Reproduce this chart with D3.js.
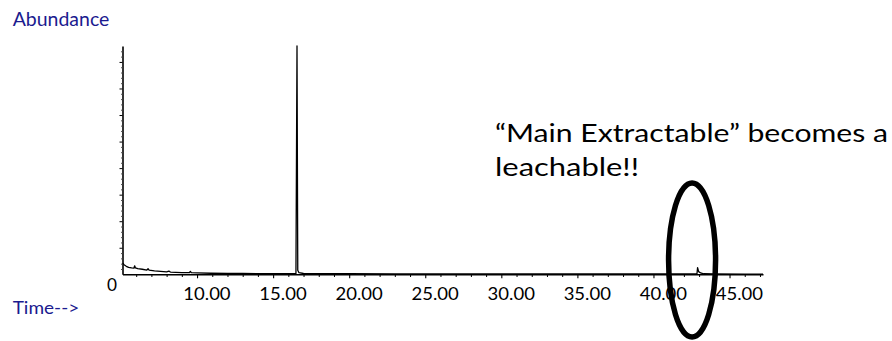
<!DOCTYPE html>
<html>
<head>
<meta charset="utf-8">
<script src="https://cdn.jsdelivr.net/npm/d3@7"></script>
<style>
  html, body { margin: 0; padding: 0; background: #fff; }
  svg { display: block; }
  text { font-family: Lato, 'Open Sans', sans-serif; }
</style>
</head>
<body>
<div id="chart"></div>
<script>
// chromatogram trace, time in minutes, abundance in millions
const traceTime = [5.12, 5.2, 5.35, 5.5, 5.7, 5.85, 5.9, 5.95, 6.1, 6.4, 6.7, 6.78, 6.85, 7.2, 7.6, 8.0, 8.15, 8.25, 8.6, 9.0, 9.5, 9.56, 9.62, 10.0, 10.9, 12.0, 13.0, 14.0, 15.0, 16.0, 16.5, 16.57, 16.62, 16.7, 17.0, 18.0, 20.0, 23.0, 26.0, 29.0, 32.0, 35.0, 38.0, 41.0, 42.8, 42.86, 42.9, 42.97, 43.1, 43.3, 44.0, 46.0, 47.2]
const traceAbund = [0.42, 0.36, 0.30, 0.26, 0.24, 0.23, 0.32, 0.24, 0.21, 0.19, 0.16, 0.21, 0.16, 0.13, 0.11, 0.09, 0.12, 0.085, 0.075, 0.065, 0.06, 0.11, 0.06, 0.055, 0.04, 0.035, 0.03, 0.025, 0.02, 0.02, 0.02, 8.6, 0.15, 0.06, 0.03, 0.02, 0.02, 0.015, 0.015, 0.012, 0.012, 0.012, 0.012, 0.012, 0.012, 0.02, 0.25, 0.1, 0.05, 0.02, 0.012, 0.01, 0.01]

const xDomain = [5.1, 47.2]
const yDomain = [0, 8.6]
const xLabelTicks = [10, 15, 20, 25, 30, 35, 40, 45]
const yTitle = 'Abundance'
const xTitle = 'Time-->'
const noteLines = ['\u201CMain Extractable\u201D becomes a', 'leachable!!']
const noteTime = 42.9

const W = 892, H = 341
const navy = '#1b1b8f'

const svg = d3.select('#chart').append('svg')
  .attr('width', W).attr('height', H)

const x = d3.scaleLinear().domain(xDomain).range([122.5, 763])
const y = d3.scaleLinear().domain(yDomain).range([274.3, 46])

svg.append('clipPath').attr('id', 'plotclip')
  .append('rect').attr('x', 122).attr('y', 45).attr('width', 642).attr('height', 231)

// x axis: minute ticks, longer every 5 min
let minuteTicks = d3.range(6, 48, 1)
let xAxisMinor = d3.axisBottom(x).tickValues(minuteTicks.filter(d => d % 5 !== 0))
  .tickSize(2.7).tickFormat('').tickSizeOuter(0)
let xAxisMajor = d3.axisBottom(x).tickValues(xLabelTicks)
  .tickSize(4).tickSizeOuter(0).tickFormat(d => d.toFixed(2)).tickPadding(0)

let gxMinor = svg.append('g').attr('transform', 'translate(0,' + y(0) + ')').call(xAxisMinor)
gxMinor.select('.domain').attr('stroke-width', 1.6)
let gxMajor = svg.append('g').attr('transform', 'translate(0,' + y(0) + ')').call(xAxisMajor)
gxMajor.select('.domain').remove()
gxMajor.selectAll('line').attr('stroke-width', 1.1)
gxMajor.selectAll('text')
  .attr('font-size', 17.7).attr('fill', '#000')
  .attr('text-anchor', 'start')
  .attr('x', 9.4 - 23.65).attr('y', 25.7).attr('dy', null)
  .attr('textLength', 47.3).attr('lengthAdjust', 'spacingAndGlyphs')

// y axis: unlabeled ticks
let yAxisMinor = d3.axisLeft(y).tickValues(d3.range(0.2, 8.6, 0.2).filter(d => Math.abs(d - Math.round(d)) > 0.01))
  .tickSize(1.5).tickFormat('').tickSizeOuter(0)
let yAxisMajor = d3.axisLeft(y).tickValues(d3.range(1, 9, 1)).tickSize(3).tickFormat('').tickSizeOuter(0)
let gyMinor = svg.append('g').attr('transform', 'translate(' + x(xDomain[0]) + ',0)').call(yAxisMinor)
gyMinor.select('.domain').attr('stroke-width', 1.6)
gyMinor.selectAll('line').attr('stroke', '#555')
svg.append('g').attr('transform', 'translate(' + x(xDomain[0]) + ',0)').call(yAxisMajor)
  .select('.domain').remove()

// trace
let trace = traceTime.map((t, i) => ({t: t, a: traceAbund[i]}))
svg.append('path')
  .datum(trace)
  .attr('clip-path', 'url(#plotclip)')
  .attr('fill', 'none').attr('stroke', '#000').attr('stroke-width', 1.3)
  .attr('stroke-linejoin', 'round')
  .attr('d', d3.line().x(d => x(d.t)).y(d => y(d.a)))

// zero label
svg.append('text').attr('x', 107).attr('y', 291)
  .attr('font-size', 18).attr('fill', '#000')
  .attr('textLength', 10).attr('lengthAdjust', 'spacingAndGlyphs')
  .text('0')

// titles
svg.append('text').attr('x', 12.7).attr('y', 26)
  .attr('font-size', 18.5).attr('fill', navy)
  .attr('textLength', 96.6).attr('lengthAdjust', 'spacingAndGlyphs')
  .text(yTitle)
svg.append('text').attr('x', 12.7).attr('y', 314.3)
  .attr('font-size', 17.6).attr('fill', navy)
  .attr('textLength', 66.6).attr('lengthAdjust', 'spacingAndGlyphs')
  .text(xTitle)

// annotation
svg.append('text').attr('x', 495).attr('y', 141.7)
  .attr('font-size', 24.6).attr('fill', '#000')
  .attr('textLength', 393).attr('lengthAdjust', 'spacingAndGlyphs')
  .text(noteLines[0])
svg.append('text').attr('x', 495).attr('y', 175.5)
  .attr('font-size', 24.6).attr('fill', '#000')
  .attr('textLength', 144).attr('lengthAdjust', 'spacingAndGlyphs')
  .text(noteLines[1])

svg.append('ellipse')
  .attr('cx', x(noteTime) - 5.5).attr('cy', 260)
  .attr('rx', 23.5).attr('ry', 77)
  .attr('fill', 'none').attr('stroke', '#000').attr('stroke-width', 5.5)
</script>
</body>
</html>
